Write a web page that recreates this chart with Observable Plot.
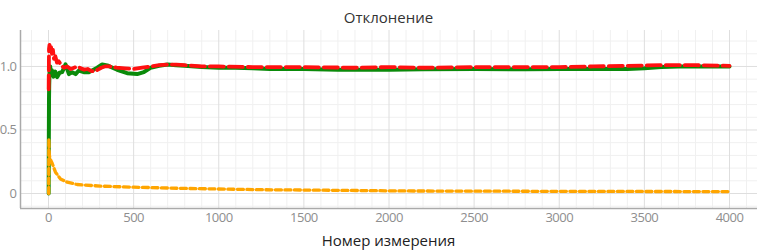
<!DOCTYPE html>
<html>
<head>
<meta charset="utf-8">
<script src="https://cdn.jsdelivr.net/npm/d3@7"></script>
<script src="https://cdn.jsdelivr.net/npm/@observablehq/plot@0.6"></script>
<style>
  html, body { margin: 0; padding: 0; background: #fff; }
  #wrap { position: relative; width: 758px; height: 252px; font-family: "Open Sans", sans-serif; }
  #title { position: absolute; left: 20px; width: 737px; top: 7px; text-align: center; font-size: 15px; line-height: 20px; color: #333; }
  #xlabel { position: absolute; left: 20px; width: 737px; top: 230px; text-align: center; font-size: 15px; line-height: 20px; color: #222; }
  #chart { position: absolute; left: 0; top: 30px; }
</style>
</head>
<body>
<div id="wrap">
  <div id="title">Отклонение</div>
  <div id="chart"></div>
  <div id="xlabel">Номер измерения</div>
</div>
<script>
// Red dashed series
const redX = [1, 3, 6, 10, 14, 20, 26, 32, 40, 50, 60, 75, 90, 110, 130, 150, 170, 190, 210, 230, 250, 270, 290, 310, 330, 360, 400, 450, 500, 550, 600, 650, 700, 750, 800, 900, 1000, 1200, 1500, 1800, 2000, 2200, 2500, 2800, 3000, 3200, 3400, 3600, 3800, 4000];
const redY = [0.82, 1.14, 1.17, 1.12, 1.16, 1.10, 1.13, 1.06, 1.08, 1.03, 1.04, 1.01, 0.99, 1.00, 0.98, 0.99, 1.00, 0.985, 0.975, 0.98, 0.965, 0.96, 0.975, 0.99, 1.00, 1.00, 0.99, 0.985, 0.98, 0.99, 1.00, 1.01, 1.015, 1.015, 1.01, 1.00, 1.00, 0.995, 0.995, 0.99, 0.995, 0.99, 0.995, 0.995, 0.995, 1.00, 1.005, 1.01, 1.01, 1.005];
// Green solid series
const greenX = [1, 2, 3, 4, 6, 10, 15, 20, 30, 40, 51, 65, 80, 100, 120, 139, 159, 178, 207, 237, 286, 315, 345, 403, 462, 521, 560, 599, 650, 700, 750, 800, 900, 1000, 1100, 1200, 1300, 1500, 1700, 2000, 2200, 2500, 2800, 3000, 3200, 3400, 3500, 3600, 3700, 3800, 4000];
const greenY = [0.0, 0.45, 0.75, 0.85, 0.95, 1.00, 0.93, 0.97, 0.92, 0.96, 0.916, 0.95, 0.955, 1.016, 0.94, 0.955, 0.94, 0.968, 0.955, 0.955, 0.99, 1.016, 1.008, 0.974, 0.947, 0.94, 0.955, 0.99, 1.005, 1.015, 1.01, 1.005, 0.995, 0.99, 0.99, 0.985, 0.98, 0.98, 0.975, 0.975, 0.978, 0.98, 0.978, 0.98, 0.98, 0.98, 0.985, 0.995, 1.00, 1.00, 1.00];
// Orange dashed series
const orangeX = [1, 2, 3, 5, 10, 22, 41, 70, 110, 168, 305, 500, 800, 1250, 1700, 2100, 3000, 4000];
const orangeY = [0.0, 0.43, 0.36, 0.30, 0.27, 0.236, 0.168, 0.115, 0.089, 0.071, 0.058, 0.05, 0.04, 0.03, 0.025, 0.02, 0.017, 0.015];

const xTicks = [0, 500, 1000, 1500, 2000, 2500, 3000, 3500, 4000];
const yTicks = [0, 0.5, 1.0];
const yTickLabels = ["0", "0.5", "1.0"];

const xDomain = [-164.5, 4164.5];
const yDomain = [-0.118, 1.283];

const toRows = (xs, ys) => xs.map((x, i) => ({x, y: ys[i]}));
const red = toRows(redX, redY);
const green = toRows(greenX, greenY);
const orange = toRows(orangeX, orangeY);

const xMinor = d3.range(-100, 4200, 100).filter(v => v % 500 !== 0);
const yMinor = d3.range(-1, 13).map(v => v / 10).filter(v => v !== 0 && v !== 0.5 && v !== 1);

const chart = Plot.plot({
  width: 758,
  height: 200,
  marginLeft: 20,
  marginRight: 1,
  marginTop: 0,
  marginBottom: 22,
  style: {fontFamily: "'Open Sans', sans-serif", fontSize: "13px", letterSpacing: "-0.5px", color: "#8e8e8e", background: "#fff"},
  x: {domain: xDomain, ticks: xTicks, tickSize: 0, tickPadding: 4, label: null, tickFormat: d => String(d)},
  y: {domain: yDomain, ticks: yTicks, tickSize: 0, tickPadding: 4, label: null,
      tickFormat: d => yTickLabels[yTicks.indexOf(d)]},
  marks: [
    Plot.ruleX(xMinor, {stroke: "#f0f0f0", strokeWidth: 1}),
    Plot.ruleY(yMinor, {stroke: "#f0f0f0", strokeWidth: 1}),
    Plot.ruleX(xTicks, {stroke: "#dedede", strokeWidth: 1}),
    Plot.ruleY(yTicks, {stroke: "#dedede", strokeWidth: 1}),
    Plot.ruleX([xDomain[0]], {stroke: "#aaa", strokeWidth: 1.5}),
    Plot.ruleY([yDomain[0]], {stroke: "#aaa", strokeWidth: 1.5}),
    Plot.line(green, {x: "x", y: "y", stroke: "#0a8a0a", strokeWidth: 4}),
    Plot.line(orange, {x: "x", y: "y", stroke: "#ffa500", strokeWidth: 3.3, strokeDasharray: "6,3.5"}),
    Plot.line(red, {x: "x", y: "y", stroke: "#ff1010", strokeWidth: 3.8, strokeDasharray: "14,5"})
  ]
});
document.getElementById("chart").appendChild(chart);
</script>
</body>
</html>
